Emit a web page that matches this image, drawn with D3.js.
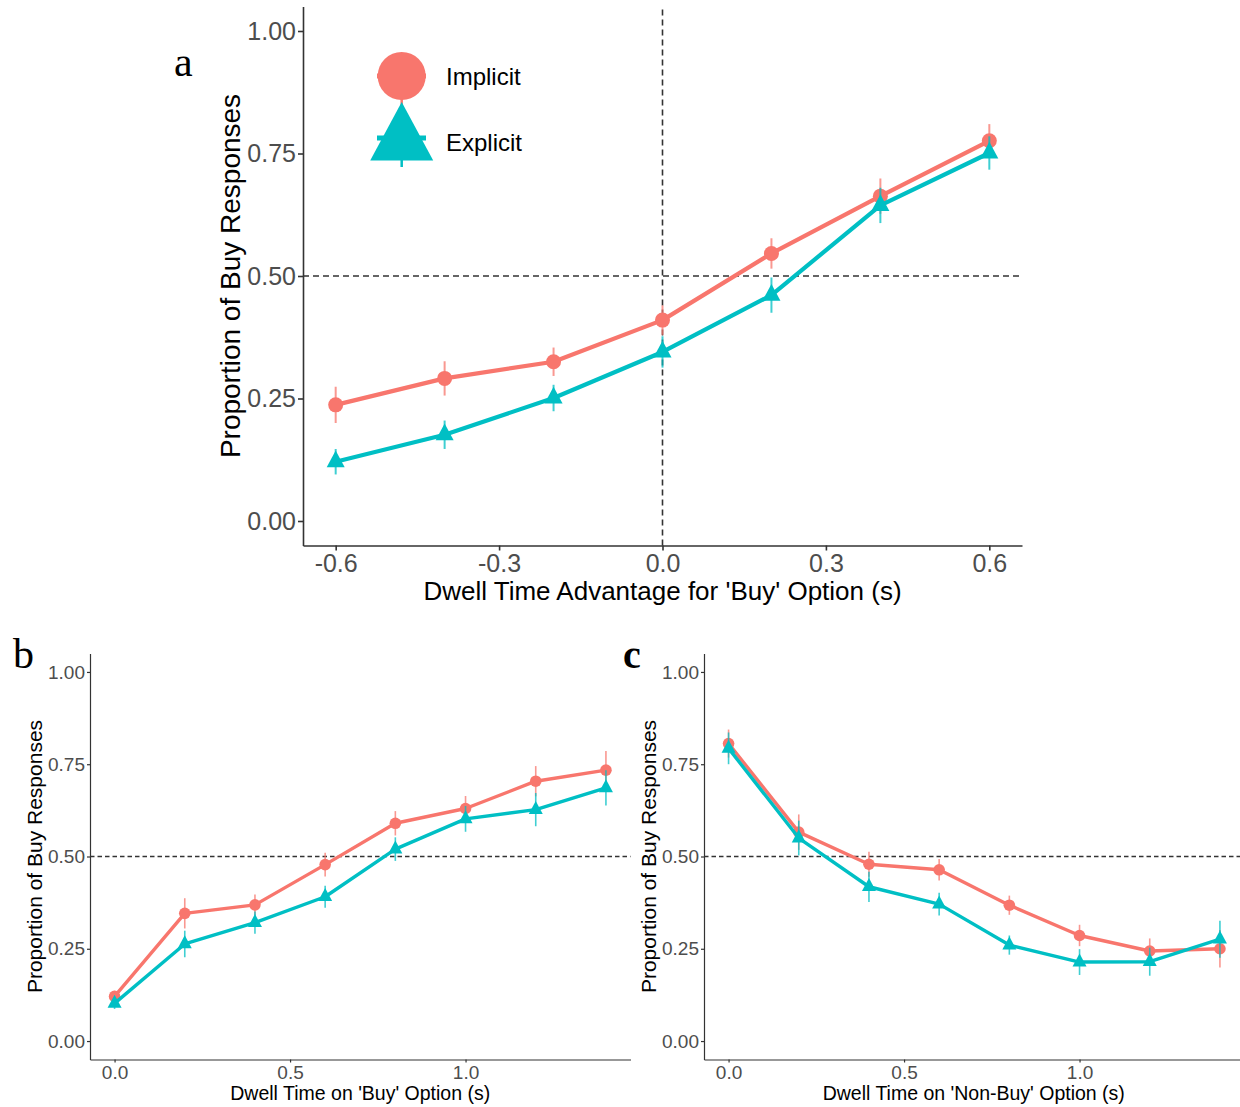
<!DOCTYPE html>
<html>
<head>
<meta charset="UTF-8">
<script src="https://d3js.org/d3.v7.min.js"></script>
<style>
  body { margin: 0; background: #fff; }
  svg { display: block; font-family: "Liberation Sans", Arial, sans-serif; }
  .tick text { fill: #4d4d4d; }
  .domain, .tick line { stroke: #333; }
  .panel-label { font-family: "Liberation Serif", "Times New Roman", serif; fill: #000; }
</style>
</head>
<body>
<svg id="chart" width="1240" height="1107"></svg>
<script>
// ---- data ----
const yTicks = [0, 0.25, 0.5, 0.75, 1.0];
const aXTicks = [-0.6, -0.3, 0.0, 0.3, 0.6];
const bcXTicks = [0.0, 0.5, 1.0];

// panel a: dwell time advantage
const aX = [-0.6, -0.4, -0.2, 0.0, 0.2, 0.4, 0.6];
const aImplicit   = [0.237, 0.291, 0.325, 0.410, 0.546, 0.663, 0.776];
const aImplicitSE = [0.037, 0.035, 0.029, 0.030, 0.031, 0.036, 0.034];
const aExplicit   = [0.121, 0.176, 0.251, 0.345, 0.461, 0.644, 0.751];
const aExplicitSE = [0.026, 0.029, 0.027, 0.032, 0.036, 0.036, 0.034];

// panel b: dwell time on 'buy'
const bX = [0.0, 0.2, 0.4, 0.6, 0.8, 1.0, 1.2, 1.4];
const bImplicit   = [0.121, 0.346, 0.369, 0.478, 0.590, 0.630, 0.704, 0.734];
const bImplicitSE = [0.015, 0.041, 0.028, 0.032, 0.033, 0.034, 0.041, 0.052];
const bExplicit   = [0.102, 0.263, 0.321, 0.391, 0.520, 0.602, 0.627, 0.686];
const bExplicitSE = [0.015, 0.036, 0.030, 0.030, 0.032, 0.035, 0.045, 0.048];

// panel c: dwell time on 'non-buy'
const cX = [0.0, 0.2, 0.4, 0.6, 0.8, 1.0, 1.2, 1.4];
const cImplicit   = [0.806, 0.566, 0.479, 0.464, 0.368, 0.286, 0.244, 0.250];
const cImplicitSE = [0.038, 0.048, 0.034, 0.029, 0.026, 0.029, 0.034, 0.051];
const cExplicit   = [0.793, 0.550, 0.418, 0.371, 0.260, 0.214, 0.215, 0.276];
const cExplicitSE = [0.043, 0.047, 0.041, 0.031, 0.026, 0.035, 0.038, 0.050];

const seriesNames = ["Implicit", "Explicit"];
const colors = { Implicit: "#F8766D", Explicit: "#00BFC4" };

const svg = d3.select("#chart");
svg.append("rect").attr("width", 1240).attr("height", 1107).attr("fill", "#fff");

function triPath(w) {
  // triangle centred on its centroid
  let h = w * 0.93;
  return "M0," + (-h * 2 / 3) + "L" + (w / 2) + "," + (h / 3) + "L" + (-w / 2) + "," + (h / 3) + "Z";
}

function drawPanel(p) {
  let g = svg.append("g");
  let x = d3.scaleLinear().domain(p.xDomain).range(p.xRange);
  let y = d3.scaleLinear().domain([-0.05, 1.05]).range(p.yRange);

  // reference lines
  g.append("line")
    .attr("x1", p.xRange[0]).attr("x2", p.xRange[1])
    .attr("y1", y(0.5)).attr("y2", y(0.5))
    .attr("stroke", "#333").attr("stroke-width", p.dashW).attr("stroke-dasharray", p.dash);
  if (p.vline) {
    g.append("line")
      .attr("x1", x(0)).attr("x2", x(0))
      .attr("y1", p.yRange[0]).attr("y2", p.yRange[1])
      .attr("stroke", "#333").attr("stroke-width", p.dashW).attr("stroke-dasharray", p.dash);
  }

  // axes
  let yAxis = g.append("g")
    .attr("transform", "translate(" + p.xRange[0] + ",0)")
    .call(d3.axisLeft(y).tickValues(yTicks).tickFormat(d => d.toFixed(2))
      .tickSize(p.tick).tickSizeOuter(0).tickPadding(p.padY));
  let xAxis = g.append("g")
    .attr("transform", "translate(0," + p.yRange[0] + ")")
    .call(d3.axisBottom(x).tickValues(p.xTicks).tickFormat(d => d.toFixed(1))
      .tickSize(p.tick).tickSizeOuter(0).tickPadding(p.padX));
  [yAxis, xAxis].forEach(a => {
    a.selectAll("text").style("font-size", p.tickFont + "px");
    a.selectAll(".domain, .tick line").attr("stroke-width", p.axisW);
  });

  // series
  seriesNames.forEach(name => {
    let vals = p[name], se = p[name + "SE"];
    let pts = p.x.map((d, i) => ({ x: d, y: vals[i], se: se[i] }));
    let col = colors[name];
    let sg = g.append("g");
    sg.selectAll(".err").data(pts).join("line")
      .attr("x1", d => x(d.x)).attr("x2", d => x(d.x))
      .attr("y1", d => y(d.y - d.se)).attr("y2", d => y(d.y + d.se))
      .attr("stroke", col).attr("stroke-width", p.errW).attr("opacity", 0.75);
    sg.append("path").datum(pts)
      .attr("d", d3.line().x(d => x(d.x)).y(d => y(d.y)))
      .attr("fill", "none").attr("stroke", col).attr("stroke-width", p.lineW)
      .attr("stroke-linejoin", "round");
    if (name === "Implicit") {
      sg.selectAll("circle").data(pts).join("circle")
        .attr("cx", d => x(d.x)).attr("cy", d => y(d.y)).attr("r", p.r)
        .attr("fill", col);
    } else {
      sg.selectAll(".tri").data(pts).join("path")
        .attr("transform", d => "translate(" + x(d.x) + "," + y(d.y) + ")")
        .attr("d", triPath(p.triW)).attr("fill", col);
    }
  });

  // titles
  g.append("text")
    .attr("x", (p.xRange[0] + p.xRange[1]) / 2 + p.xTitleDx).attr("y", p.xTitleY)
    .attr("text-anchor", "middle").style("font-size", p.titleFont + "px")
    .text(p.xTitle);
  g.append("text")
    .attr("transform", "translate(" + p.yTitleX + "," + ((p.yRange[0] + p.yRange[1]) / 2) + ") rotate(-90)")
    .attr("text-anchor", "middle").style("font-size", p.yTitleFont + "px")
    .text("Proportion of Buy Responses");
  g.append("text").attr("class", "panel-label")
    .attr("x", p.labelX).attr("y", p.labelY)
    .style("font-size", p.labelFont + "px").style("font-weight", p.labelWeight)
    .text(p.label);
  return { x, y, g };
}

// panel a
drawPanel({
  x: aX, Implicit: aImplicit, ImplicitSE: aImplicitSE, Explicit: aExplicit, ExplicitSE: aExplicitSE,
  xDomain: [-0.66, 0.66], xRange: [303, 1022], yRange: [545.5, 6.5], xTicks: aXTicks,
  vline: true, dash: "6,4", dashW: 1.6, tick: 5, padY: 2, padX: 4, tickFont: 25, axisW: 1.6,
  errW: 2, lineW: 4.2, r: 7.5, triW: 18,
  xTitle: "Dwell Time Advantage for 'Buy' Option (s)", xTitleY: 600, xTitleDx: 0, titleFont: 26,
  yTitleX: 240, yTitleFont: 28,
  label: "a", labelX: 174, labelY: 76, labelFont: 42, labelWeight: "normal"
});

// legend for panel a
let leg = svg.append("g");
let legY = { Implicit: 76, Explicit: 138 };
let legTextY = { Implicit: 85, Explicit: 151 };
seriesNames.forEach(name => {
  let col = colors[name], cy = legY[name];
  leg.append("line").attr("x1", 377).attr("x2", 426).attr("y1", cy).attr("y2", cy)
    .attr("stroke", col).attr("stroke-width", 5);
  leg.append("line").attr("x1", 401.7).attr("x2", 401.7).attr("y1", cy - 22).attr("y2", cy + 29)
    .attr("stroke", col).attr("stroke-width", 2.5);
  if (name === "Implicit") {
    leg.append("circle").attr("cx", 401.7).attr("cy", cy).attr("r", 24).attr("fill", col);
  } else {
    leg.append("path").attr("transform", "translate(401.7," + (cy + 3) + ")")
      .attr("d", triPath(63)).attr("fill", col);
  }
  leg.append("text").attr("x", 446).attr("y", legTextY[name]).style("font-size", "24px").text(name);
});

// panel b
drawPanel({
  x: bX, Implicit: bImplicit, ImplicitSE: bImplicitSE, Explicit: bExplicit, ExplicitSE: bExplicitSE,
  xDomain: [-0.07, 1.47], xRange: [90, 630.5], yRange: [1059.5, 653.5], xTicks: bcXTicks,
  vline: false, dash: "4.5,3", dashW: 1.3, tick: 3, padY: 2, padX: 3.5, tickFont: 19, axisW: 1.2,
  errW: 1.6, lineW: 3.4, r: 5.8, triW: 14,
  xTitle: "Dwell Time on 'Buy' Option (s)", xTitleY: 1100, xTitleDx: 0, titleFont: 19.5,
  yTitleX: 42, yTitleFont: 21,
  label: "b", labelX: 13, labelY: 668, labelFont: 42, labelWeight: "normal"
});

// panel c
drawPanel({
  x: cX, Implicit: cImplicit, ImplicitSE: cImplicitSE, Explicit: cExplicit, ExplicitSE: cExplicitSE,
  xDomain: [-0.07, 1.47], xRange: [704, 1244.5], yRange: [1059.5, 653.5], xTicks: bcXTicks,
  vline: false, dash: "4.5,3", dashW: 1.3, tick: 3, padY: 2, padX: 3.5, tickFont: 19, axisW: 1.2,
  errW: 1.6, lineW: 3.4, r: 5.8, triW: 14,
  xTitle: "Dwell Time on 'Non-Buy' Option (s)", xTitleY: 1100, xTitleDx: -0.5, titleFont: 19.5,
  yTitleX: 656, yTitleFont: 21,
  label: "c", labelX: 623, labelY: 668, labelFont: 40, labelWeight: "bold"
});
</script>
</body>
</html>
